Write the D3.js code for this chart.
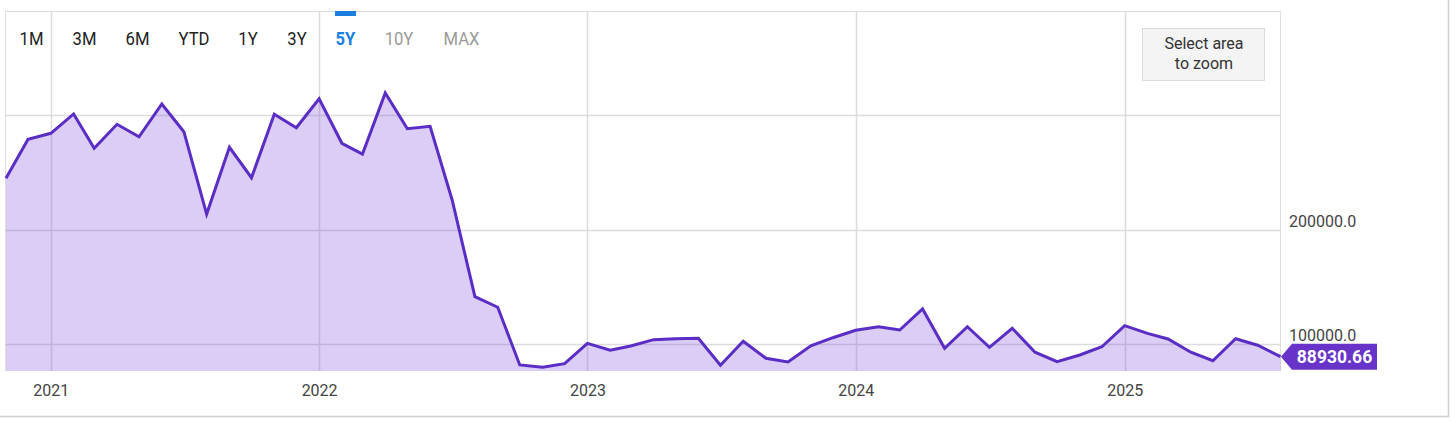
<!DOCTYPE html>
<html>
<head>
<meta charset="utf-8">
<script src="https://cdn.jsdelivr.net/npm/d3@7"></script>
<style>
  html, body { margin: 0; padding: 0; background: #fff; }
  svg { display: block; font-family: Roboto, "Noto Sans", sans-serif; }
</style>
</head>
<body>
<svg id="chart" width="1456" height="429"></svg>
<script>
// ---- data ----
const months = [
  "2020-11","2020-12",
  "2021-01","2021-02","2021-03","2021-04","2021-05","2021-06","2021-07","2021-08","2021-09","2021-10","2021-11","2021-12",
  "2022-01","2022-02","2022-03","2022-04","2022-05","2022-06","2022-07","2022-08","2022-09","2022-10","2022-11","2022-12",
  "2023-01","2023-02","2023-03","2023-04","2023-05","2023-06","2023-07","2023-08","2023-09","2023-10","2023-11","2023-12",
  "2024-01","2024-02","2024-03","2024-04","2024-05","2024-06","2024-07","2024-08","2024-09","2024-10","2024-11","2024-12",
  "2025-01","2025-02","2025-03","2025-04","2025-05","2025-06","2025-07","2025-08"
];
const values = [
  244700, 278800,
  284000, 300900, 270900, 291900, 281000, 309600, 285400, 213500, 271800, 245200, 300600, 288900,
  314200, 275300, 265900, 319200, 288000, 290100, 225800, 141300, 132100, 81700, 79700, 82800,
  100600, 94500, 98300, 103800, 104600, 105000, 81400, 102400, 87500, 84300, 98500, 105500,
  112000, 115100, 112200, 130600, 96200, 115100, 97100, 113700, 92800, 84500, 90400, 97600,
  116000, 109300, 104400, 92800, 85400, 104600, 98900, 88930.66
];
const rangeButtons = ["1M","3M","6M","YTD","1Y","3Y","5Y","10Y","MAX"];
const activeButton = "5Y";
const disabledButtons = ["10Y","MAX"];
const yTickValues = [100000, 200000];
const yGridValues = [100000, 200000, 300000];
const zoomButtonLines = ["Select area", "to zoom"];

// ---- layout ----
const parse = d3.timeParse("%Y-%m");
const data = months.map((m, i) => ({ date: parse(m), value: values[i] }));
const plot = { left: 6, right: 1280.5, top: 11, bottom: 370 };

const svg = d3.select("#chart");
svg.append("rect").attr("width", 1456).attr("height", 429).attr("fill", "#fff");

const x = d3.scaleTime()
  .domain([parse("2020-11"), parse("2025-08")])
  .range([plot.left, plot.right]);
const y = d3.scaleLinear()
  .domain([77293, 390830])
  .range([plot.bottom, plot.top]);

// outer frame lines
svg.append("line").attr("x1", 0).attr("x2", 1449).attr("y1", 416.5).attr("y2", 416.5)
  .attr("stroke", "#cfcfcf").attr("stroke-width", 1.5);
svg.append("line").attr("x1", 1448.5).attr("x2", 1448.5).attr("y1", 0).attr("y2", 417)
  .attr("stroke", "#cfcfcf").attr("stroke-width", 1.5);

// plot border
svg.append("line").attr("x1", 5).attr("x2", 1281).attr("y1", 11.5).attr("y2", 11.5)
  .attr("stroke", "#dedede");
svg.append("line").attr("x1", 5.5).attr("x2", 5.5).attr("y1", 11).attr("y2", plot.bottom + 1)
  .attr("stroke", "#dedede");
svg.append("line").attr("x1", 1280.5).attr("x2", 1280.5).attr("y1", 11).attr("y2", plot.bottom + 1)
  .attr("stroke", "#dedede");

// horizontal gridlines
svg.append("g").selectAll("line").data(yGridValues).join("line")
  .attr("x1", 5).attr("x2", 1281)
  .attr("y1", d => Math.round(y(d)) + 0.5).attr("y2", d => Math.round(y(d)) + 0.5)
  .attr("stroke", "#dcdcdc").attr("stroke-width", 1.5);

// vertical gridlines (years)
const years = x.ticks(d3.timeYear.every(1));
svg.append("g").selectAll("line").data(years).join("line")
  .attr("x1", d => Math.round(x(d)) + 0.5).attr("x2", d => Math.round(x(d)) + 0.5)
  .attr("y1", 11).attr("y2", plot.bottom + 1)
  .attr("stroke", "#dcdcdc").attr("stroke-width", 1.5);

// area + line
const area = d3.area().x(d => x(d.date)).y0(plot.bottom + 1).y1(d => y(d.value));
const line = d3.line().x(d => x(d.date)).y(d => y(d.value));
svg.append("path").datum(data).attr("d", area).attr("fill", "rgba(124,77,220,0.28)");
svg.append("path").datum(data).attr("d", line)
  .attr("fill", "none").attr("stroke", "#5a2dc4").attr("stroke-width", 3)
  .attr("stroke-linejoin", "miter");

// x axis
const xAxis = d3.axisBottom(x).ticks(d3.timeYear.every(1)).tickFormat(d3.timeFormat("%Y")).tickSize(0);
const gx = svg.append("g").attr("transform", `translate(0,${plot.bottom})`).call(xAxis);
gx.select(".domain").remove();
gx.selectAll("text").attr("font-family", "Roboto").attr("font-size", 16).attr("fill", "#444")
  .attr("dy", 0).attr("y", 26);

// y axis labels (right side, above gridline)
const yAxis = d3.axisRight(y).tickValues(yTickValues).tickFormat(d3.format(".1f")).tickSize(0);
const gy = svg.append("g").attr("transform", `translate(1289,0)`).call(yAxis);
gy.select(".domain").remove();
gy.selectAll("text").attr("font-family", "Roboto").attr("font-size", 16).attr("fill", "#444")
  .attr("x", 0).attr("dy", -3.5);

// last value label
const last = data[data.length - 1];
const tx = x(last.date) + 0.5, ty = y(last.value);
svg.append("path")
  .attr("d", `M${tx},${ty} L${tx + 11},${ty - 13} L${tx + 96},${ty - 13} L${tx + 96},${ty + 13} L${tx + 11},${ty + 13} Z`)
  .attr("fill", "#6733c9");
svg.append("text").attr("x", tx + 53.5).attr("y", ty + 6.5)
  .attr("text-anchor", "middle").attr("font-family", "Roboto").attr("font-weight", "bold")
  .attr("font-size", 17.5).attr("fill", "#fff")
  .text(d3.format(".2f")(last.value));

// range buttons
const btnCenters = [31.5, 84.5, 137.5, 194, 248, 297, 345.5, 399, 461.5];
const gb = svg.append("g");
gb.selectAll("text").data(rangeButtons).join("text")
  .attr("x", (d, i) => btnCenters[i]).attr("y", 45)
  .attr("text-anchor", "middle").attr("font-family", "Roboto").attr("font-size", 18.5)
  .attr("font-weight", d => d === activeButton ? "bold" : "normal")
  .attr("fill", d => d === activeButton ? "#1a7fe0" : (disabledButtons.includes(d) ? "#9a9a9a" : "#222"))
  .attr("transform", (d, i) => `translate(${btnCenters[i]},0) scale(0.9,1) translate(${-btnCenters[i]},0)`)
  .text(d => d);
const ai = rangeButtons.indexOf(activeButton);
svg.append("rect").attr("x", btnCenters[ai] - 10.5).attr("y", 11).attr("width", 21).attr("height", 5)
  .attr("fill", "#1a7fe0");

// select area to zoom button
svg.append("rect").attr("x", 1142.5).attr("y", 28.5).attr("width", 122).attr("height", 52)
  .attr("fill", "#f4f4f4").attr("stroke", "#dadada");
svg.append("g").selectAll("text").data(zoomButtonLines).join("text")
  .attr("x", 1204).attr("y", (d, i) => 49 + i * 20)
  .attr("text-anchor", "middle").attr("font-family", "Roboto").attr("font-size", 16).attr("fill", "#333")
  .text(d => d);
</script>
</body>
</html>
